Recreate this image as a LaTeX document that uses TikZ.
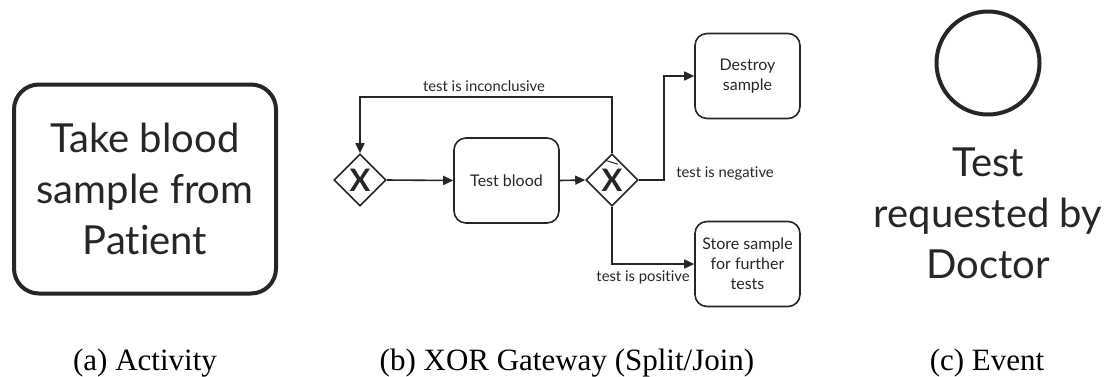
\documentclass[tikz,border=0pt]{standalone}
\usepackage{fontspec}
\setmainfont{Liberation Serif}
\newfontfamily\diagfont[Ligatures=NoCommon]{Lato}
\usepackage{tikz}
\usetikzlibrary{arrows.meta,shapes.geometric}
\definecolor{InkDefault}{RGB}{38,38,42}

\begin{document}
\begin{tikzpicture}[x=1pt,y=1pt,yscale=-1,xscale=1,
  activity/.style={draw=InkDefault,line width=4pt,rounded corners=25pt,minimum width=262pt,minimum height=209pt,align=center,text=InkDefault,font=\diagfont\fontsize{40}{51}\selectfont},
  task/.style={draw=InkDefault,line width=1.6pt,rounded corners=12pt,minimum width=105pt,minimum height=85pt,align=center,text=InkDefault,font=\diagfont\fontsize{16}{20}\selectfont},
  gate/.style={draw=InkDefault,line width=1.6pt,diamond,minimum width=52pt,minimum height=52pt,inner sep=0pt,text=InkDefault,font=\diagfont\bfseries\fontsize{31}{31}\selectfont},
  flow/.style={draw=InkDefault,line width=1.6pt,-{Triangle[length=10pt,width=9pt]}},
  flowlabel/.style={inner sep=0.75pt,text=InkDefault,font=\diagfont\fontsize{14.8}{17}\selectfont},
  caption/.style={anchor=base,inner sep=0pt,font=\fontsize{31}{36}\selectfont}]
\useasboundingbox (0,0) rectangle (1110,376);

% (a) Activity
\node [activity] (takeblood) at (145,189) {Take blood\\sample from\\Patient};

% (b) XOR Gateway
\node [gate] (gwjoin) at (360,180) {X};
\node [task] (testblood) at (506.5,180.5) {Test blood};
\node [gate] (gwsplit) at (612,180) {X};
\node [task] (destroy) at (747.5,76) {Destroy\\sample};
\node [task] (store) at (747.5,264) {Store sample\\for further\\tests};
\coordinate (looptop) at (486,97);

%Straight Lines
\draw [flow] (gwjoin.east) -- (testblood.west);
\draw [flow] (testblood.east) -- (gwsplit.west);
\draw [flow] (gwsplit.north) |- (looptop) -| (gwjoin.north);
\draw [flow] (gwsplit.east) -- ++(25,0) |- (destroy.west);
\draw [flow] (gwsplit.south) |- (store.west);
% default flow mark
\draw [InkDefault,line width=1pt] ([xshift=-7pt,yshift=7pt]gwsplit.north) -- ([xshift=6pt,yshift=11pt]gwsplit.north);

% Text Node
\node [flowlabel] (inconclusive) at (484,86) {test is inconclusive};
\node [flowlabel] (negative) at (725,173) {test is negative};
\node [flowlabel] (positive) at (643,277) {test is positive};

% (c) Event
\node [draw=InkDefault,line width=4pt,circle,minimum size=103pt,inner sep=0pt] (request) at (988,63) {};
\node [align=center,text=InkDefault,font=\diagfont\fontsize{40}{51}\selectfont] (requestlabel) at (988,213) {Test\\requested by\\Doctor};

% Captions
\node [caption] (capa) at (145,370) {(a) Activity};
\node [caption] (capb) at (567,370) {(b) XOR Gateway (Split/Join)};
\node [caption] (capc) at (987,370) {(c) Event};
\end{tikzpicture}
\end{document}
